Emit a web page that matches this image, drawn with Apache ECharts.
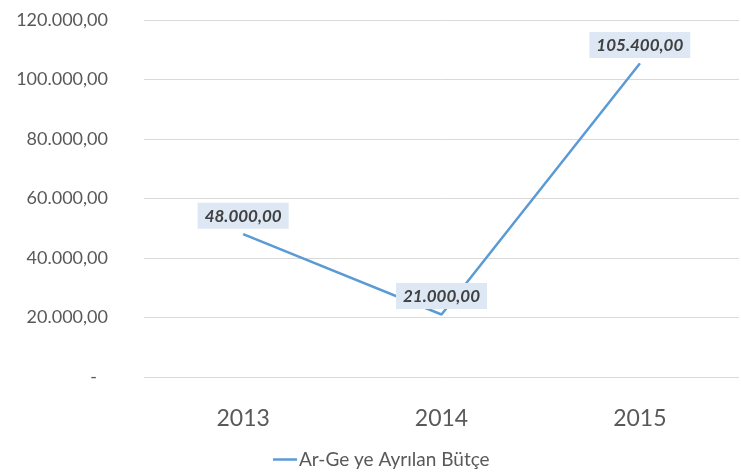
<!DOCTYPE html>
<html>
<head>
<meta charset="utf-8">
<script src="https://cdn.jsdelivr.net/npm/echarts@6/dist/echarts.min.js"></script>
<style>html,body{margin:0;padding:0;background:#fff}#c{width:741px;height:476px}</style>
</head>
<body>
<div id="c"></div>
<script>
const categories = ['2013', '2014', '2015'];
const seriesName = 'Ar-Ge ye Ayrılan Bütçe';
const values = [48000, 21000, 105400];
const yTicks = [0, 20000, 40000, 60000, 80000, 100000, 120000];

function fmt(v) {
  const s = Math.round(v).toString().replace(/\B(?=(\d{3})+(?!\d))/g, '.');
  return s + ',00';
}

const chart = echarts.init(document.getElementById('c'), null, {renderer: 'canvas'});
chart.setOption({
  animation: false,
  textStyle: {fontFamily: 'Lato'},
  grid: {left: 144, right: 2, top: 20, bottom: 99},
  legend: {
    bottom: 2,
    left: 268,
    icon: 'rect',
    itemWidth: 24,
    itemHeight: 2.5,
    itemGap: 4,
    data: [seriesName],
    textStyle: {color: '#595959', fontSize: 19, fontFamily: 'Lato', padding: [0, 0, 0, -3]}
  },
  xAxis: {
    type: 'category',
    data: categories,
    boundaryGap: true,
    axisLine: {show: false},
    axisTick: {show: false},
    axisLabel: {color: '#595959', fontSize: 23, margin: 30, fontFamily: 'Lato'}
  },
  yAxis: {
    type: 'value',
    min: yTicks[0],
    max: yTicks[yTicks.length - 1],
    interval: yTicks[1] - yTicks[0],
    axisLine: {show: false},
    axisTick: {show: false},
    splitLine: {lineStyle: {color: '#D9D9D9', width: 1}},
    axisLabel: {
      color: '#595959',
      fontSize: 18,
      margin: 36,
      fontFamily: 'Lato',
      formatter: function (v) { return v === 0 ? '{z|-}' : fmt(v); },
      rich: {z: {color: '#595959', fontSize: 18, padding: [0, 11, 0, 0], fontFamily: 'Lato'}}
    }
  },
  series: [{
    name: seriesName,
    type: 'line',
    data: values,
    symbol: 'circle',
    symbolSize: 1,
    showSymbol: true,
    lineStyle: {color: '#5B9BD5', width: 2.5},
    itemStyle: {color: '#5B9BD5'},
    label: {
      show: true,
      position: 'top',
      distance: 5,
      formatter: function (p) { return fmt(p.value); },
      color: '#404040',
      fontSize: 17,
      fontWeight: 'bold',
      fontStyle: 'italic',
      fontFamily: 'Lato',
      backgroundColor: '#DDE8F4',
      padding: [5, 7, 4, 7]
    }
  }]
});
</script>
</body>
</html>
